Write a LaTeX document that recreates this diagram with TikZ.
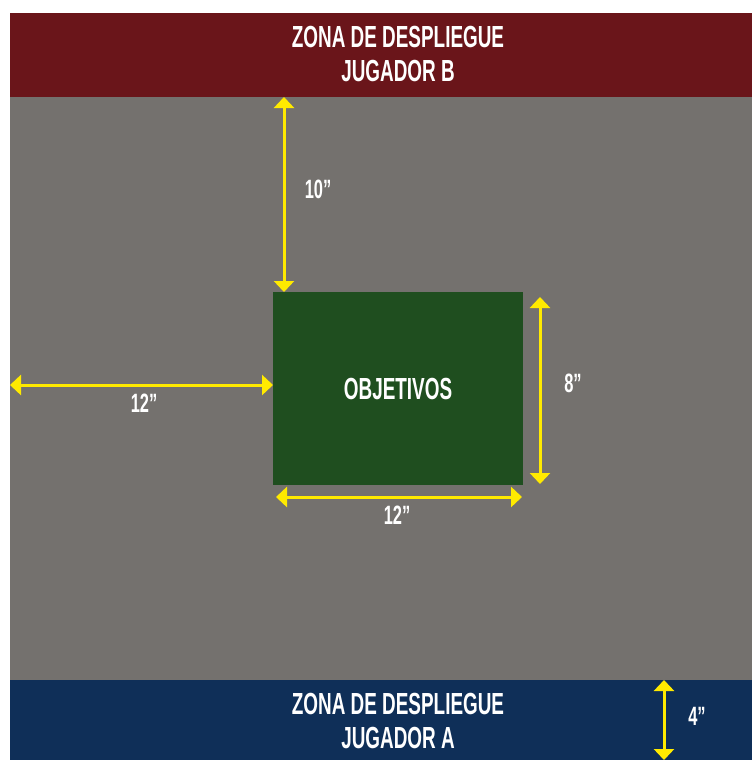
\documentclass[tikz,border=0pt]{standalone}
\usepackage{fontspec}
\usepackage{tikz}
\usetikzlibrary{arrows.meta,positioning,calc}
\newfontfamily\boardfont{Liberation Sans}[FakeStretch=0.62]
\definecolor{zoneRed}{HTML}{6A151A}
\definecolor{zoneBlue}{HTML}{0F2F58}
\definecolor{fieldGray}{HTML}{74716E}
\definecolor{objGreen}{HTML}{1F4E1F}
\definecolor{dimYellow}{HTML}{FFEA00}
\tikzset{
  area/.style={inner sep=0pt, outer sep=0pt, draw=none},
  zonetext/.style={text=white, align=center, font=\boardfont\bfseries\fontsize{30.5}{34}\selectfont},
  dim/.style={draw=dimYellow, line width=3pt,
    {Triangle[width=20pt,length=11pt]}-{Triangle[width=20pt,length=11pt]}},
  dimlabel/.style={text=white, font=\boardfont\bfseries\fontsize{26.5}{26.5}\selectfont},
}

\begin{document}
\begin{tikzpicture}[x=1pt,y=-1pt]
  \useasboundingbox (0,0) rectangle (752,760);
  \fill[white] (0,0) rectangle (752,760);

  % table
  \node[area, fill=fieldGray, minimum width=742pt, minimum height=583pt] (board) at (381,388.5) {};
  \node[area, fill=zoneRed, minimum width=742pt, minimum height=84pt] (zonaB) at (381,55) {};
  \node[area, fill=zoneBlue, minimum width=742pt, minimum height=80pt] (zonaA) at (381,720) {};
  \node[area, fill=objGreen, minimum width=250pt, minimum height=193pt] (obj) at (398,388.5) {};

  \node[zonetext] (txtB) at (398,54) {ZONA DE DESPLIEGUE\\JUGADOR B};
  \node[zonetext] (txtA) at (398,721) {ZONA DE DESPLIEGUE\\JUGADOR A};
  \node[zonetext] (txtObj) at (obj) {OBJETIVOS};

  % medidas
  \coordinate (tenEnd) at ($(obj.north west)+(11,0)$);
  \draw[dim] (tenEnd |- zonaB.south) -- (tenEnd);
  \node[dimlabel] (lblTen) at (318,189) {10”};

  \coordinate (leftEnd) at ($(obj.west)+(0,-3.5)$);
  \draw[dim] (leftEnd -| board.west) -- (leftEnd);
  \node[dimlabel] (lblLeft) at (144,403) {12”};

  \draw[dim] ($(obj.south west)+(3,12)$) -- ($(obj.south east)+(-1,12)$);
  \node[dimlabel] (lblBot) at (397,515) {12”};

  \draw[dim] ($(obj.north east)+(17,5)$) -- ($(obj.south east)+(17,-1)$);
  \node[dimlabel] (lblRight) at (573,383) {8”};

  \draw[dim] ($(zonaA.north east)+(-88,0)$) -- ($(zonaA.south east)+(-88,0)$);
  \node[dimlabel] (lblFour) at (697,716) {4”};
\end{tikzpicture}
\end{document}
